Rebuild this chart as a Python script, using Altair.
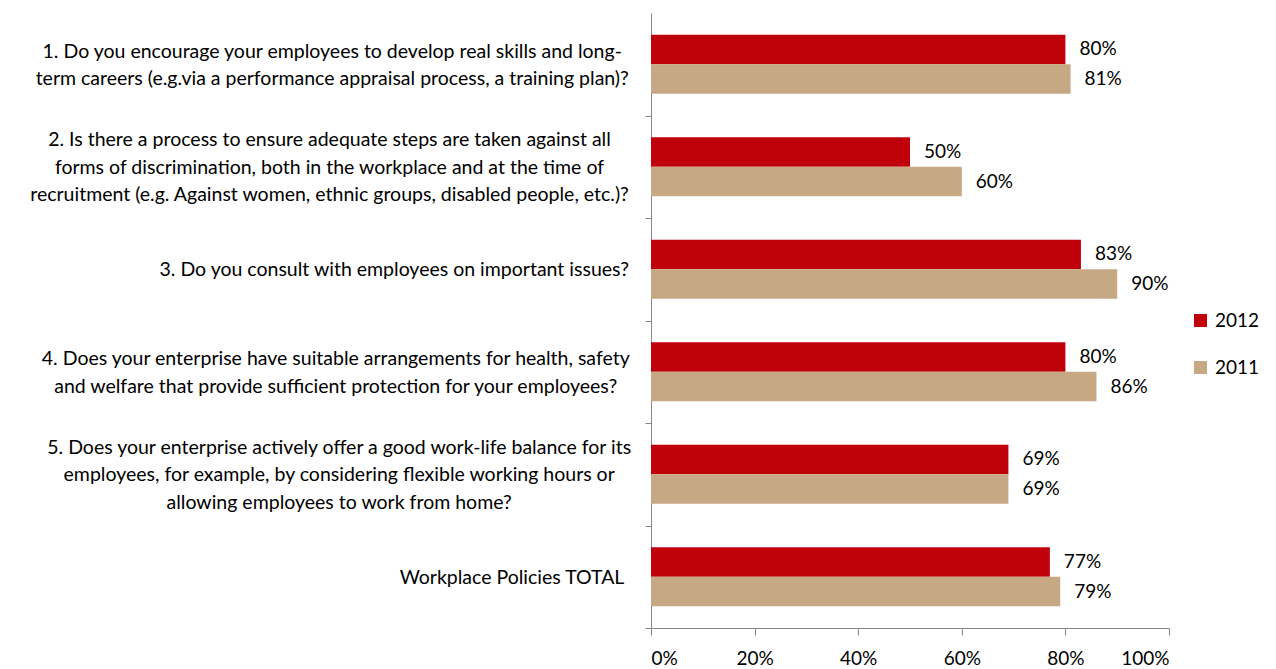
import altair as alt
import pandas as pd

# ---- data ----
question_lines = [
    ["1. Do you encourage your employees to develop real skills and long-",
     "term careers (e.g.via a performance appraisal process, a training plan)?"],
    ["2. Is there a process to ensure adequate steps are taken against all",
     "forms of discrimination, both in the workplace and at the time of",
     "recruitment (e.g. Against women, ethnic groups, disabled people, etc.)?"],
    ["3. Do you consult with employees on important issues?"],
    ["4. Does your enterprise have suitable arrangements for health, safety",
     "and welfare that provide sufficient protection for your employees?"],
    ["5. Does your enterprise actively offer a good work-life balance for its",
     "employees, for example, by considering flexible working hours or",
     "allowing employees to work from home?"],
    ["Workplace Policies TOTAL"],
]
categories = ["Q1", "Q2", "Q3", "Q4", "Q5", "TOTAL"]
series = ["2012", "2011"]
values_2012 = [80, 50, 83, 80, 69, 77]
values_2011 = [81, 60, 90, 86, 69, 79]
x_ticks = [0, 0.2, 0.4, 0.6, 0.8, 1.0]

RED = "#C0000B"
TAN = "#C6A984"
FONT = "Lato"
FS = 19
LFS = 19.5
LINE_H = 27.5

# rough glyph advance widths (em) used only to centre wrapped label lines
_W = {" ": .19, "a": .49, "b": .56, "c": .46, "d": .56, "e": .52, "f": .33, "g": .50,
      "h": .56, "i": .24, "j": .24, "k": .50, "l": .24, "m": .84, "n": .56, "o": .56,
      "p": .55, "q": .56, "r": .37, "s": .42, "t": .35, "u": .56, "v": .50, "w": .76,
      "x": .49, "y": .50, "z": .44, "W": .95, "T": .55, "O": .76, "A": .66, "L": .48,
      "P": .58, "I": .27, "D": .69, ".": .22, ",": .22, "-": .33, "(": .30, ")": .30,
      "?": .43}


def text_w(s):
    return sum(_W.get(ch, .58) for ch in s) * LFS


rows = []
for c, v12, v11 in zip(categories, values_2012, values_2011):
    rows.append({"category": c, "series": "2012", "value": v12 / 100})
    rows.append({"category": c, "series": "2011", "value": v11 / 100})
bars_df = pd.DataFrame(rows)

labels_df = pd.DataFrame({
    "category": categories,
    "lines": question_lines,
    "maxw": [max(text_w(l) for l in ls) for ls in question_lines],
})

y_enc = alt.Y(
    "category:N",
    sort=categories,
    scale=alt.Scale(domain=categories, paddingInner=0.424, paddingOuter=0.212),
    axis=alt.Axis(labels=False, title=None, tickOffset=51.25, tickSize=6,
                  domainColor="#868686", tickColor="#868686"),
)
x_enc = alt.X(
    "value:Q",
    scale=alt.Scale(domain=[0, 1]),
    axis=alt.Axis(format=".0%", values=x_ticks, title=None, grid=False,
                  tickSize=7, labelPadding=14, domainColor="#868686",
                  tickColor="#868686"),
)
yoff = alt.YOffset("series:N", sort=series,
                   scale=alt.Scale(domain=series, paddingInner=0, paddingOuter=0))

bars = alt.Chart(bars_df).mark_bar().encode(
    x=x_enc,
    y=y_enc,
    yOffset=yoff,
    color=alt.Color(
        "series:N",
        scale=alt.Scale(domain=series, range=[RED, TAN]),
        legend=alt.Legend(title=None, orient="none", legendX=540, legendY=298,
                          symbolType="square", symbolSize=169, symbolStrokeWidth=0,
                          labelFontSize=FS, labelFont=FONT, labelOffset=5,
                          rowPadding=27, labelColor="black"),
    ),
)

value_text = alt.Chart(bars_df).mark_text(
    align="left", baseline="middle", dx=14, font=FONT, fontSize=FS, color="black"
).encode(
    x=x_enc,
    y=y_enc,
    yOffset=yoff,
    text=alt.Text("value:Q", format=".0%"),
)

question_text = alt.Chart(labels_df).transform_calculate(
    xpix="-29 - datum.maxw / 2"
).mark_text(
    align="center", baseline="middle", font=FONT, fontSize=LFS,
    lineHeight=LINE_H, color="black",
    dy=alt.expr(f"-(length(datum.lines) - 1) * {LINE_H} / 2 + 1"),
).encode(
    x=alt.X("xpix:Q", scale=None, axis=None),
    y=y_enc,
    text=alt.Text("lines:N"),
)

chart = alt.layer(bars, value_text, question_text).properties(
    width=518,
    height=615,
    padding={"left": 651, "top": 13, "right": 107, "bottom": 41},
    autosize=alt.AutoSizeParams(type="none"),
).configure_view(stroke=None).configure_axis(
    labelFont=FONT, labelFontSize=FS, labelColor="black"
)

chart.save("out.html", embed_options={"renderer": "svg", "actions": False})
